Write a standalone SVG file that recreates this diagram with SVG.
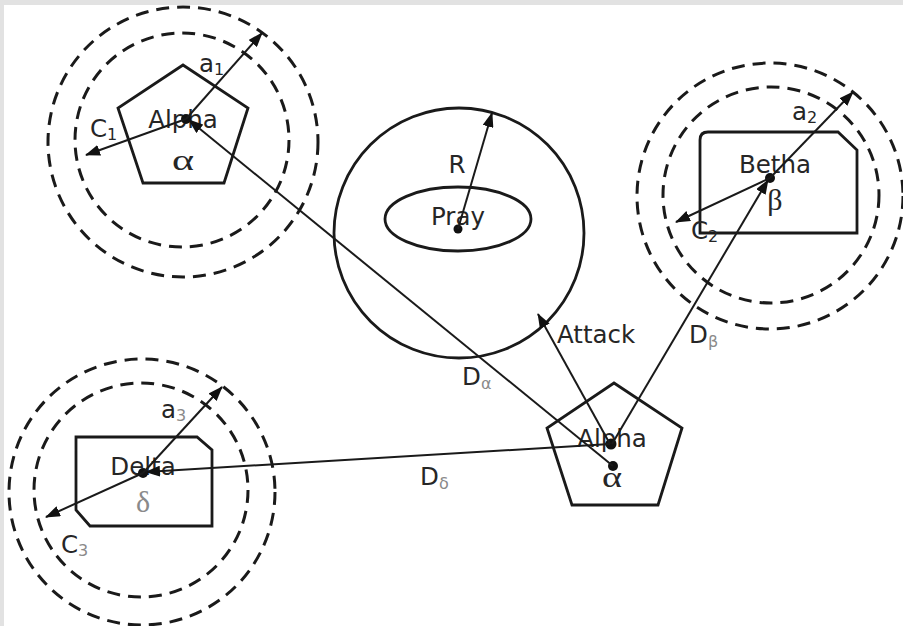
<svg xmlns="http://www.w3.org/2000/svg" width="903" height="626" viewBox="0 0 903 626">
<style>
.dash{fill:none;stroke:#1a1a1a;stroke-width:3;stroke-dasharray:13 8}
.shape{fill:none;stroke:#1a1a1a;stroke-width:2.8;stroke-linejoin:miter}
.conn{stroke:#1a1a1a;stroke-width:2;fill:none}
.t{font-family:"DejaVu Sans",sans-serif;font-size:24.5px;fill:#262626}
.c{text-anchor:middle}
.g{font-family:"Liberation Serif",serif;font-size:30px;fill:#262626;text-anchor:middle}
.sub{font-size:16px}
.gray{fill:#8a8a8a}
.dot{fill:#111}
</style>
<defs>
<marker id="arr" viewBox="0 0 15 11" refX="14" refY="5.5" markerWidth="15" markerHeight="11" markerUnits="userSpaceOnUse" orient="auto">
<path d="M0,0 L15,5.5 L0,11 Z" fill="#111"/>
</marker>
</defs>
<rect x="0" y="0" width="903" height="626" fill="#e2e2e2"/>
<rect x="4" y="5" width="899" height="621" fill="#ffffff"/>

<g id="alpha1">
<circle class="dash" cx="183" cy="142" r="135"/>
<circle class="dash" cx="182" cy="140" r="107"/>
<polygon class="shape" points="183,65 248,108 224,183 143,183 118,108"/>
<text class="t c" x="183" y="128">Alpha</text>
<text class="g" x="183" y="170" textLength="22" lengthAdjust="spacingAndGlyphs">α</text>
<text class="t" x="199" y="72">a<tspan class="sub" dy="3">1</tspan></text>
<text class="t" x="90" y="137">C<tspan class="sub" dy="3">1</tspan></text>
<circle class="dot" cx="186" cy="119" r="5"/>
</g>

<g id="pray">
<circle class="shape" cx="459" cy="233" r="125"/>
<ellipse class="shape" cx="458" cy="219" rx="73" ry="32"/>
<text class="t c" x="458" y="225">Pray</text>
<text class="t c" x="457" y="173">R</text>
<circle class="dot" cx="458" cy="229" r="4.5"/>
</g>

<g id="betha">
<circle class="dash" cx="770" cy="196" r="133"/>
<circle class="dash" cx="771" cy="195" r="108"/>
<path class="shape" d="M708,132 L838,132 L857,150 L857,233 L700,233 L700,140 Q700,132 708,132 Z"/>
<text class="t c" x="775" y="173">Betha</text>
<text class="g" x="775" y="210">β</text>
<text class="t" x="792" y="120">a<tspan class="sub" dy="3">2</tspan></text>
<text class="t" x="691" y="239">C<tspan class="sub" dy="3">2</tspan></text>
<circle class="dot" cx="770" cy="178" r="5"/>
</g>

<g id="delta">
<circle class="dash" cx="142" cy="492" r="133"/>
<circle class="dash" cx="141" cy="490" r="107"/>
<path class="shape" d="M76,437 L197,437 L212,450 L212,526 L90,526 L76,510 Z"/>
<text class="t c" x="143" y="475">Delta</text>
<text class="g gray" x="143" y="512">δ</text>
<text class="t" x="161" y="418">a<tspan class="sub gray" dy="3">3</tspan></text>
<text class="t" x="61" y="553">C<tspan class="sub gray" dy="3">3</tspan></text>
<circle class="dot" cx="143" cy="473" r="5"/>
</g>

<g id="alpha2">
<polygon class="shape" points="614,383 682,428 658,505 572,505 547,428"/>
<text class="t c" x="612" y="447">Alpha</text>
<text class="g" x="612" y="487" textLength="20" lengthAdjust="spacingAndGlyphs">α</text>
<circle class="dot" cx="611" cy="444" r="5.5"/>
<circle class="dot" cx="613" cy="466" r="5"/>
</g>

<g id="labels">
<text class="t" x="557" y="343">Attack</text>
<text class="t" x="462" y="385">D<tspan class="sub gray" dy="4">α</tspan></text>
<text class="t" x="420" y="485">D<tspan class="sub gray" dy="4">δ</tspan></text>
<text class="t" x="689" y="343">D<tspan class="sub gray" dy="4">β</tspan></text>
</g>

<g id="connectors">
<line class="conn" x1="186" y1="119" x2="262" y2="33" marker-end="url(#arr)"/>
<line class="conn" x1="186" y1="119" x2="86" y2="155" marker-end="url(#arr)"/>
<line class="conn" x1="613" y1="466" x2="189" y2="120" marker-end="url(#arr)"/>
<line class="conn" x1="458" y1="229" x2="492" y2="113" marker-end="url(#arr)"/>
<line class="conn" x1="610" y1="444" x2="538" y2="314" marker-end="url(#arr)"/>
<line class="conn" x1="612" y1="444" x2="768" y2="180" marker-end="url(#arr)"/>
<line class="conn" x1="770" y1="178" x2="853" y2="92" marker-end="url(#arr)"/>
<line class="conn" x1="770" y1="178" x2="676" y2="222" marker-end="url(#arr)"/>
<line class="conn" x1="610" y1="444" x2="146" y2="472" marker-end="url(#arr)"/>
<line class="conn" x1="143" y1="473" x2="222" y2="387" marker-end="url(#arr)"/>
<line class="conn" x1="143" y1="473" x2="46" y2="517" marker-end="url(#arr)"/>
</g>
</svg>
